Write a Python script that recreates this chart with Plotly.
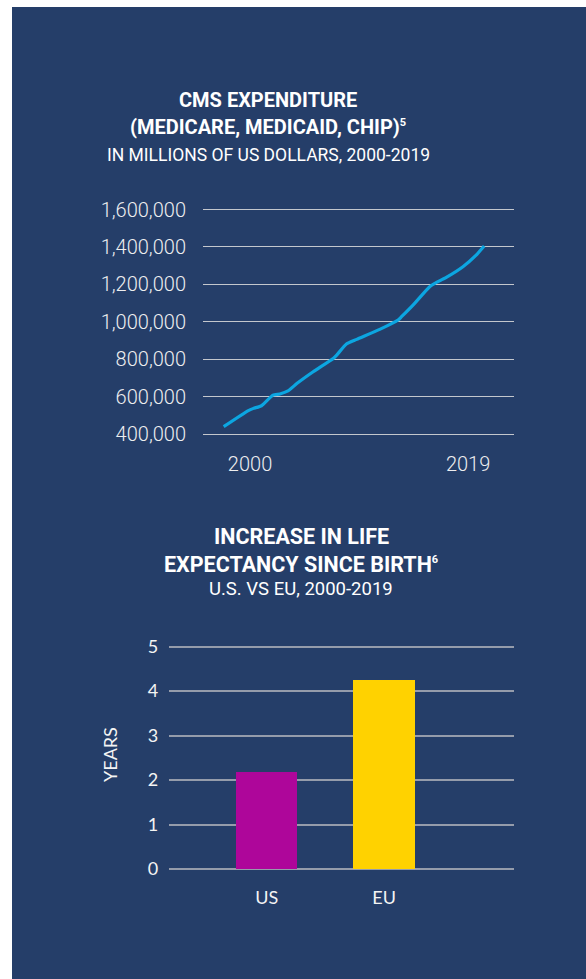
import plotly.graph_objects as go

W, H = 586, 979

# ---- Data: CMS expenditure (millions USD) ----
cms_year = [1997.7, 1999.85, 2000.3, 2001.0, 2002.0, 2002.6, 2003.3, 2004.1, 2005.5,
            2007.25, 2007.55, 2008.4, 2009.3, 2011.3, 2012.9, 2013.2, 2014.2, 2015.65,
            2016.1, 2017.1, 2018.55, 2019.7, 2020.4]
cms_spend = [439000, 525000, 537000, 551000, 608000, 614000, 630000, 671000, 733000,
             804000, 822000, 881000, 906000, 959000, 1009000, 1027000, 1089000, 1187000,
             1205000, 1237000, 1294000, 1356000, 1405000]
cms_yticks = [400000, 600000, 800000, 1000000, 1200000, 1400000, 1600000]
cms_xticks = [2000, 2019]

# ---- Data: increase in life expectancy (years) ----
regions = ["US", "EU"]
increase = [2.18, 4.26]
bar_colors = ["#AE069A", "#FFD200"]
years_ticks = [0, 1, 2, 3, 4, 5]

NAVY = "#253E69"

fig = go.Figure()

fig.add_trace(go.Scatter(
    x=cms_year, y=cms_spend, mode="lines",
    line=dict(color="#0CA6E1", width=3.2, shape="spline", smoothing=0.5),
    xaxis="x", yaxis="y", showlegend=False, hoverinfo="skip"))

fig.add_trace(go.Bar(
    x=regions, y=increase, marker=dict(color=bar_colors, line=dict(width=0)),
    width=0.526, xaxis="x2", yaxis="y2", showlegend=False, hoverinfo="skip"))


def px_x(p):
    return p / W


def px_y(p):
    return 1 - p / H


light = dict(family="Roboto", size=20, color="#EEEEF0", weight=300)
reg = dict(family="Lato", size=18, color="#F4F4F4")

# pad ranges by 2 px so the edge gridlines are drawn
pad1 = 2 / 37.42 * 200000
pad2 = 2 / 44.46

fig.update_layout(
    width=W, height=H,
    margin=dict(l=0, r=0, t=0, b=0, pad=0, autoexpand=False),
    paper_bgcolor="white", plot_bgcolor="rgba(0,0,0,0)",
    bargap=0,
    shapes=[dict(type="rect", xref="paper", yref="paper",
                 x0=px_x(12), x1=1.0, y0=0, y1=px_y(7),
                 fillcolor=NAVY, line=dict(width=0), layer="below")],
    xaxis=dict(domain=[px_x(203), px_x(514)], range=[1995.9, 2023.0],
               tickvals=cms_xticks, ticktext=[str(v) for v in cms_xticks],
               showgrid=False, zeroline=False, showline=False, automargin=False,
               tickfont=light, ticklabelstandoff=14, anchor="y"),
    yaxis=dict(domain=[px_y(436), px_y(207.5)],
               range=[400000 - pad1, 1600000 + pad1],
               tickvals=cms_yticks, ticktext=[f"{v:,}" for v in cms_yticks],
               showgrid=True, gridcolor="#C4C7CD", gridwidth=1.3,
               zeroline=False, showline=False, automargin=False,
               tickfont=light, ticklabelstandoff=16, anchor="x"),
    xaxis2=dict(domain=[px_x(169.3), px_x(514)], range=[-0.831, 2.107],
                type="category", categoryorder="array", categoryarray=regions,
                showgrid=False, zeroline=False, showline=False, automargin=False,
                tickfont=reg, ticklabelstandoff=14, anchor="y2"),
    yaxis2=dict(domain=[px_y(871), px_y(644.7)], range=[-pad2, 5 + pad2],
                tickvals=years_ticks,
                showgrid=True, gridcolor="#959CAB", gridwidth=1.5,
                zeroline=False, showline=False, automargin=False,
                tickfont=dict(family="Lato", size=18, color="#F4F4F4"),
                ticklabelstandoff=10, anchor="x2"),
)


def ann(text, xc, yc, size, bold=False):
    f = dict(family="Roboto", size=size, color="white")
    if bold:
        f["weight"] = "bold"
    fig.add_annotation(text=text, xref="paper", yref="paper",
                       x=px_x(xc), y=px_y(yc), xanchor="center", yanchor="middle",
                       showarrow=False, font=f)


SUP = "<sup><span style='font-size:11px'>{}</span></sup>"

ann("CMS EXPENDITURE", 268, 100, 20, bold=True)
ann("(MEDICARE, MEDICAID, CHIP)" + SUP.format("5"), 268, 127, 20, bold=True)
ann("IN MILLIONS OF US DOLLARS, 2000-2019", 268, 155, 17.5)

ann("INCREASE IN LIFE", 301, 536, 21.5, bold=True)
ann("EXPECTANCY SINCE BIRTH" + SUP.format("6"), 301, 564, 21.5, bold=True)
ann("U.S. VS EU, 2000-2019", 301, 589, 18.5)

fig.add_annotation(text="YEARS", xref="paper", yref="paper",
                   x=px_x(110), y=px_y(755), xanchor="center", yanchor="middle",
                   textangle=-90, showarrow=False,
                   font=dict(family="Lato", size=18, color="#F4F4F4"))

fig.write_html("out.html",
               post_script="document.body.style.margin='0';"
                           "document.documentElement.style.margin='0';")
